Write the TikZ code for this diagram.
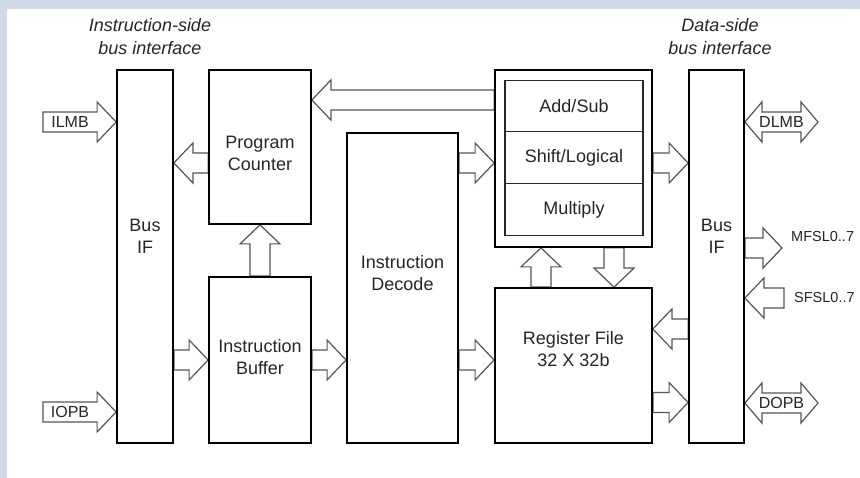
\documentclass[tikz,border=0pt]{standalone}
\usepackage{fontspec}
\setmainfont{Liberation Sans}
\usepackage{tikz}
\usetikzlibrary{calc,positioning,backgrounds}
\definecolor{pagebg}{RGB}{206,218,230}
\definecolor{busgray}{RGB}{85,85,85}
\tikzstyle{unit} = [draw, line width=1.8pt, inner sep=0pt]
\tikzstyle{row} = [draw=black!85, line width=1.2pt, inner sep=0pt, outer sep=0pt,
    minimum width=138pt, minimum height=51.7pt, text=black!85,
    font=\fontsize{18}{22}\selectfont]
\tikzstyle{txt} = [align=center, inner sep=0pt, text=black!85,
    font=\fontsize{18}{22}\selectfont]
\tikzstyle{tag} = [inner sep=0pt, text=black!85, font=\fontsize{16}{18}\selectfont]
\tikzstyle{fsl} = [tag, anchor=west, font=\fontsize{14.5}{17}\selectfont]
\tikzstyle{side} = [align=center, inner sep=0pt, text=black!85,
    font=\fontsize{18}{23}\selectfont\itshape]
\tikzstyle{bus} = [draw=busgray, line width=1.2pt, fill=white, line join=miter]

% block arrow, tail #1 to tip #2
\newcommand{\busarrow}[2]{%
  \coordinate (hb) at ($(#2)!19pt!(#1)$);
  \draw[bus] ($(#1)!10pt!90:(#2)$) -- ($(hb)!10pt!-90:(#1)$)
    -- ($(hb)!20pt!-90:(#1)$) -- (#2) -- ($(hb)!20pt!90:(#1)$)
    -- ($(hb)!10pt!90:(#1)$) -- ($(#1)!10pt!-90:(#2)$) -- cycle;}
% two-way block arrow between #1 and #2
\newcommand{\dualarrow}[2]{%
  \coordinate (ha) at ($(#1)!17pt!(#2)$);
  \coordinate (hb) at ($(#2)!17pt!(#1)$);
  \draw[bus] (#1) -- ($(ha)!20pt!90:(#2)$) -- ($(ha)!10pt!90:(#2)$)
    -- ($(hb)!10pt!-90:(#1)$) -- ($(hb)!20pt!-90:(#1)$) -- (#2)
    -- ($(hb)!20pt!90:(#1)$) -- ($(hb)!10pt!90:(#1)$)
    -- ($(ha)!10pt!-90:(#2)$) -- ($(ha)!20pt!-90:(#2)$) -- cycle;}

\begin{document}
\begin{tikzpicture}[x=1pt, y=-1pt]
  \useasboundingbox (0,0) rectangle (860,478);
  % Place nodes
  \node [unit, minimum width=56pt, minimum height=373pt] (busl) at (145,256.5) {};
  \node [unit, minimum width=102pt, minimum height=154pt] (pc) at (260,147) {};
  \node [unit, minimum width=102pt, minimum height=166pt] (ibuf) at (260,360) {};
  \node [unit, minimum width=111pt, minimum height=310pt] (dec) at (402.5,288) {};
  \node [unit, minimum width=157pt, minimum height=177pt] (alu) at (573.5,158.5) {};
  \node [unit, minimum width=157pt, minimum height=155pt] (regf) at (573.5,365.5) {};
  \node [unit, minimum width=55pt, minimum height=373pt] (busr) at (716.5,256.5) {};
  % ALU rows
  \node [row] (addsub) at (574,106) {Add/Sub};
  \node [row, below=0pt of addsub] (shift) {Shift/Logical};
  \node [row, below=0pt of shift] (mult) {Multiply};
  % box texts
  \node [txt] (busltext) at ($(busl.north)+(0,167.5)$) {Bus\\IF};
  \node [txt] (pctext) at ($(pc.north)+(0,84)$) {Program\\Counter};
  \node [txt] (ibuftext) at ($(ibuf.north)+(0,81)$) {Instruction\\Buffer};
  \node [txt] (dectext) at ($(dec.north)+(0,141)$) {Instruction\\Decode};
  \node [txt] (regftext) at ($(regf.north)+(0,62)$) {Register File\\32 X 32b};
  \node [txt] (busrtext) at ($(busr.north)+(0,167)$) {Bus\\IF};
  \node [side] (iside) at (150,36.5) {Instruction-side\\bus interface};
  \node [side] (dside) at (720,36.5) {Data-side\\bus interface};

  % bus end points
  \coordinate (ilmb) at (43,122);
  \coordinate (iopb) at (43,412);
  \coordinate (dlmb) at (818,122);
  \coordinate (dopb) at (818,403);
  \coordinate (mfsl) at (782,248);
  \coordinate (sfsl) at (784,298);
  \coordinate (pcout) at ($(pc.west)+(0,16)$);
  \coordinate (fb) at ($(alu.west)+(0,-58.5)$);
  \coordinate (rup) at ($(regf.north)+(-32.5,0)$);
  \coordinate (rdn) at ($(alu.south)+(40.5,0)$);
  \coordinate (rin) at ($(busr.west)+(0,72.5)$);
  \coordinate (rout) at ($(regf.east)+(0,37)$);

  \begin{scope}[on background layer]
    \fill [pagebg] (0,0) rectangle (860,478);
    \fill [white] (7,9) rectangle (860,478);
    % instruction side
    \busarrow{ilmb}{busl.west |- ilmb}
    \busarrow{iopb}{busl.west |- iopb}
    \busarrow{pcout}{busl.east |- pcout}
    \busarrow{busl.east |- ibuf.west}{ibuf.west}
    \busarrow{ibuf.north}{pc.south}
    \busarrow{ibuf.east}{dec.west |- ibuf.east}
    \busarrow{dec.east |- ibuf.east}{regf.west |- ibuf.east}
    \busarrow{dec.east |- pcout}{alu.west |- pcout}
    \busarrow{fb}{pc.east |- fb}
    % execution and data side
    \busarrow{rup}{rup |- alu.south}
    \busarrow{rdn}{rdn |- regf.north}
    \busarrow{alu.east |- pcout}{busr.west |- pcout}
    \busarrow{rin}{regf.east |- rin}
    \busarrow{rout}{busr.west |- rout}
    \dualarrow{busr.east |- dlmb}{dlmb}
    \dualarrow{busr.east |- dopb}{dopb}
    \busarrow{busr.east |- mfsl}{mfsl}
    \busarrow{sfsl}{busr.east |- sfsl}
  \end{scope}

  % bus names
  \node [tag] (ilmbtext) at ($(ilmb)!0.37!(busl.west |- ilmb)$) {ILMB};
  \node [tag] (iopbtext) at ($(iopb)!0.37!(busl.west |- iopb)$) {IOPB};
  \node [tag] (dlmbtext) at ($(busr.east |- dlmb)!0.5!(dlmb)$) {DLMB};
  \node [tag] (dopbtext) at ($(busr.east |- dopb)!0.5!(dopb)$) {DOPB};
  \node [fsl] (mfsltext) at ($(mfsl)+(9,-11)$) {MFSL0..7};
  \node [fsl] (sfsltext) at ($(sfsl)+(10,0)$) {SFSL0..7};
\end{tikzpicture}
\end{document}
